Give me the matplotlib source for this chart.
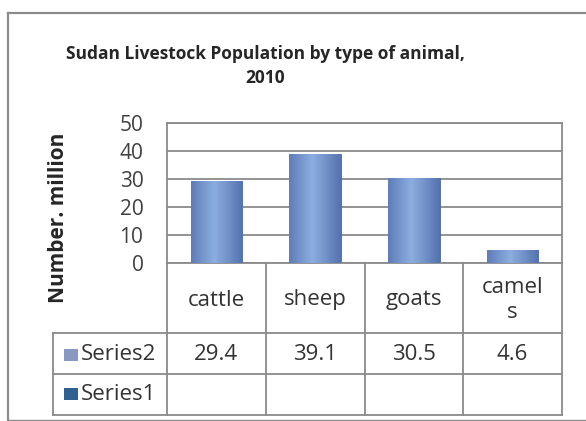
import numpy as np
import matplotlib
matplotlib.use("Agg")
import matplotlib.pyplot as plt
from matplotlib.lines import Line2D
from matplotlib.patches import Rectangle

categories = ["cattle", "sheep", "goats", "camel\ns"]
series2 = [29.4, 39.1, 30.5, 4.6]
series_names = ["Series2", "Series1"]
yticks = [0, 10, 20, 30, 40, 50]
title = "Sudan Livestock Population by type of animal,\n2010"
ylabel = "Number. million"

FONT = "Open Sans"
TXT = 16
W, H = 586, 421
fig = plt.figure(figsize=(W / 100, H / 100), dpi=100)
fig.patch.set_facecolor("white")

# plot area in pixels
L, R, T, B = 167, 562, 123, 263
ax = fig.add_axes([L / W, 1 - B / H, (R - L) / W, (B - T) / H])
ax.set_xlim(-0.5, len(categories) - 0.5)
ax.set_ylim(0, 50)
ax.set_yticks(yticks)
ax.set_yticklabels([str(v) for v in yticks], fontsize=15, color="#404040", family=FONT)
ax.tick_params(axis="y", length=0, pad=17)
ax.set_xticks([])
for s in ax.spines.values():
    s.set_color("#8a8a8a")
    s.set_linewidth(1.3)
ax.spines["bottom"].set_visible(False)
ax.yaxis.grid(True, color="#8a8a8a", linewidth=1.3)
ax.set_axisbelow(True)

x = np.arange(len(categories))
bars = ax.bar(x, series2, width=0.52, color="#7090c8", edgecolor="#4a6699", linewidth=0.6, zorder=2)

# gradient fill: darker edges, lighter centre
grad = np.linspace(0, 1, 64)
prof = 1 - np.abs(grad - 0.45) * 1.6
prof = np.clip(prof, 0, 1)
c_dark = np.array([0.30, 0.42, 0.66])
c_light = np.array([0.55, 0.68, 0.88])
img = c_dark[None, :] + (c_light - c_dark)[None, :] * prof[:, None]
img = img[None, :, :]
for b in bars:
    x0, w, h = b.get_x(), b.get_width(), b.get_height()
    im = ax.imshow(img, extent=[x0, x0 + w, 0, h], aspect="auto", zorder=3, interpolation="bilinear")
    im.set_clip_path(b)
ax.set_xlim(-0.5, len(categories) - 0.5)
ax.set_ylim(0, 50)

# ylabel
fig.text(59 / W, 1 - 218 / H, ylabel, rotation=90, ha="center", va="center",
         fontsize=15, fontweight="bold", color="#262626", family=FONT)

# title
fig.text(265 / W, 1 - 66 / H, title, ha="center", va="center", fontsize=12.5,
         fontweight="bold", color="#262626", family=FONT, linespacing=1.4)

# data table
def ay(py):
    return (B - py) / (B - T)

def axx(px):
    return (px - L) / (R - L)

lc = "#8a8a8a"
lw = 1.3
rows = [B, 333, 374, 415]
lab_left = axx(53)
kw = dict(transform=ax.transAxes, clip_on=False, color=lc, linewidth=lw)
ax.add_line(Line2D([0, 1], [ay(B), ay(B)], **kw))
for py in rows[1:]:
    ax.add_line(Line2D([lab_left, 1], [ay(py), ay(py)], **kw))
for i in range(len(categories) + 1):
    xa = i / len(categories)
    ax.add_line(Line2D([xa, xa], [ay(B), ay(415)], **kw))
ax.add_line(Line2D([lab_left, lab_left], [ay(333), ay(415)], **kw))

for i, c in enumerate(categories):
    xa = (i + 0.5) / len(categories)
    ax.text(xa, ay(300), c, transform=ax.transAxes, ha="center", va="center",
            fontsize=TXT, color="#333333", family=FONT, linespacing=1.2)
    ax.text(xa, ay(355), f"{series2[i]}", transform=ax.transAxes, ha="center",
            va="center", fontsize=TXT, color="#333333", family=FONT)

key_colors = ["#8898c0", "#2f6090"]
for j, (name, py) in enumerate(zip(series_names, [355, 394])):
    ax.add_patch(Rectangle((axx(64), ay(py + 6)), 14 / (R - L), 12 / (B - T),
                           transform=ax.transAxes, clip_on=False,
                           facecolor=key_colors[j], edgecolor="none"))
    ax.text(axx(81), ay(py), name, transform=ax.transAxes, ha="left", va="center",
            fontsize=TXT, color="#333333", family=FONT)

# outer chart border
bc = "#8c8c8c"
fig.add_artist(Line2D([8 / W, 8 / W], [1 - 13 / H, 1 - 420 / H], color=bc, linewidth=1.6))
fig.add_artist(Line2D([8 / W, 1], [1 - 13 / H, 1 - 13 / H], color=bc, linewidth=1.6))
fig.add_artist(Line2D([8 / W, 1], [1 - 420 / H, 1 - 420 / H], color=bc, linewidth=1.0))

fig.savefig("out.png", dpi=100, facecolor="white")
